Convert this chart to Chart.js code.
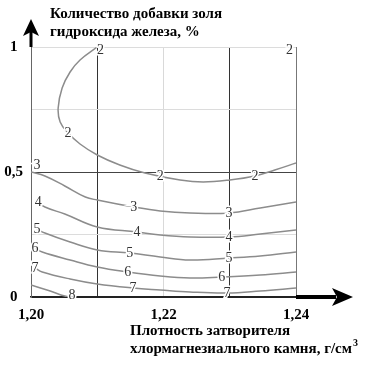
<!DOCTYPE html>
<html>
<head>
<meta charset="utf-8">
<script src="https://cdn.jsdelivr.net/npm/chart.js@4/dist/chart.umd.min.js"></script>
<style>
  html, body { margin: 0; padding: 0; background: #fff; }
  canvas { display: block; }
</style>
</head>
<body>
<canvas id="contours" width="377" height="366"></canvas>
<script>
// axis ticks
const xTickLabels = ['1,20', '', '1,22', '', '1,24'];
const yTickLabels = ['0', '', '0,5', '', '1'];

// iso-lines (x = density, y = additive share)
const iso2X = [1.2100, 1.2074, 1.2059, 1.2047, 1.2041, 1.2044, 1.2056, 1.2074, 1.2100, 1.2134, 1.2172, 1.2225, 1.2260, 1.2300, 1.2338, 1.2368, 1.2400];
const iso2Y = [1.000, 0.948, 0.900, 0.836, 0.756, 0.700, 0.656, 0.612, 0.568, 0.528, 0.496, 0.468, 0.460, 0.468, 0.484, 0.508, 0.536];
const iso3X = [1.2000, 1.2021, 1.2051, 1.2082, 1.2100, 1.2155, 1.2195, 1.2240, 1.2299, 1.2346, 1.2400];
const iso3Y = [0.500, 0.484, 0.444, 0.400, 0.388, 0.360, 0.344, 0.336, 0.336, 0.356, 0.380];
const iso4X = [1.2011, 1.2021, 1.2051, 1.2100, 1.2160, 1.2195, 1.2240, 1.2299, 1.2346, 1.2400];
const iso4Y = [0.380, 0.360, 0.332, 0.280, 0.260, 0.248, 0.240, 0.240, 0.252, 0.268];
const iso5X = [1.2009, 1.2021, 1.2059, 1.2100, 1.2149, 1.2195, 1.2240, 1.2299, 1.2346, 1.2400];
const iso5Y = [0.272, 0.256, 0.220, 0.188, 0.176, 0.160, 0.148, 0.156, 0.164, 0.180];
const iso6X = [1.2006, 1.2017, 1.2059, 1.2100, 1.2146, 1.2195, 1.2240, 1.2288, 1.2346, 1.2400];
const iso6Y = [0.196, 0.180, 0.148, 0.120, 0.100, 0.084, 0.076, 0.080, 0.088, 0.100];
const iso7X = [1.2006, 1.2017, 1.2059, 1.2100, 1.2154, 1.2195, 1.2240, 1.2296, 1.2346, 1.2400];
const iso7Y = [0.116, 0.100, 0.072, 0.052, 0.036, 0.028, 0.020, 0.016, 0.024, 0.036];
const iso8X = [1.2000, 1.2029, 1.2051, 1.2062];
const iso8Y = [0.048, 0.024, 0.004, 0.000];

// inline level labels
const labelText = ['2', '2', '2', '2', '2', '3', '3', '3', '4', '4', '4', '5', '5', '5', '6', '6', '6', '7', '7', '7', '8'];
const labelX = [1.2105, 1.2390, 1.2056, 1.2195, 1.2338, 1.2009, 1.2155, 1.2299, 1.2011, 1.2160, 1.2299, 1.2009, 1.2149, 1.2299, 1.2006, 1.2146, 1.2288, 1.2006, 1.2154, 1.2296, 1.2062];
const labelY = [0.988, 0.988, 0.656, 0.484, 0.484, 0.528, 0.360, 0.336, 0.380, 0.260, 0.240, 0.272, 0.176, 0.156, 0.196, 0.100, 0.080, 0.116, 0.036, 0.016, 0.008];

function toPoints(xs, ys) {
    return xs.map((x, i) => ({ x: x, y: ys[i] }));
}

const isoLines = [
    toPoints(iso2X, iso2Y), toPoints(iso3X, iso3Y), toPoints(iso4X, iso4Y),
    toPoints(iso5X, iso5Y), toPoints(iso6X, iso6Y), toPoints(iso7X, iso7Y),
    toPoints(iso8X, iso8Y)
];

const serif = "'Liberation Serif', 'Times New Roman', serif";

const levelLabels = {
    id: 'levelLabels',
    afterDatasetsDraw(chart) {
        const c = chart.ctx;
        const xs = chart.scales.x, ys = chart.scales.y;
        c.save();
        c.font = '14px ' + serif;
        c.textAlign = 'center';
        c.textBaseline = 'middle';
        labelText.forEach((t, i) => {
            const px = xs.getPixelForValue(labelX[i]);
            const py = ys.getPixelForValue(labelY[i]);
            c.lineWidth = 3;
            c.strokeStyle = '#fff';
            c.strokeText(t, px, py);
            c.fillStyle = '#333';
            c.fillText(t, px, py);
        });
        c.restore();
    }
};

const decorations = {
    id: 'decorations',
    afterDraw(chart) {
        const c = chart.ctx;
        const a = chart.chartArea;
        c.save();
        c.fillStyle = '#000';
        // y arrow
        c.fillRect(a.left - 1.5, a.top - 17, 3, 17);
        c.beginPath();
        c.moveTo(a.left, a.top - 28);
        c.lineTo(a.left + 8, a.top - 11);
        c.lineTo(a.left, a.top - 15);
        c.lineTo(a.left - 8, a.top - 11);
        c.closePath();
        c.fill();
        // x arrow
        c.fillRect(a.right, a.bottom - 2, 40, 4);
        c.beginPath();
        c.moveTo(a.right + 57, a.bottom);
        c.lineTo(a.right + 36, a.bottom - 9);
        c.lineTo(a.right + 41, a.bottom);
        c.lineTo(a.right + 36, a.bottom + 9);
        c.closePath();
        c.fill();

        c.font = 'bold 15px ' + serif;
        c.textAlign = 'left';
        c.textBaseline = 'middle';
        c.fillText('Количество добавки золя', 50, 14);
        c.fillText('гидроксида железа, %', 50, 32);
        c.fillText('Плотность затворителя', 130, 331);
        const line = 'хлормагнезиального камня, г/см';
        c.fillText(line, 130, 349);
        const w = c.measureText(line).width;
        c.font = 'bold 10px ' + serif;
        c.fillText('3', 130 + w + 1, 343);
        c.restore();
    }
};

const xGridColors = ['#666', '#333', '#d9d9d9', '#333', '#777'];
const yGridColors = ['#222', '#dcdcdc', '#444', '#dcdcdc', '#dcdcdc'];

const ctx = document.getElementById('contours').getContext('2d');
new Chart(ctx, {
    type: 'scatter',
    data: {
        datasets: isoLines.map(pts => ({
            data: pts,
            showLine: true,
            borderColor: '#8c8c8c',
            borderWidth: 1.5,
            pointRadius: 0,
            tension: 0.4,
            fill: false
        }))
    },
    options: {
        responsive: false,
        animation: false,
        events: [],
        layout: { padding: { top: 47, right: 81, bottom: 0, left: 0 } },
        plugins: {
            legend: { display: false },
            tooltip: { enabled: false }
        },
        scales: {
            x: {
                type: 'linear',
                min: 1.20,
                max: 1.24,
                afterFit: s => { s.height = 69; },
                afterBuildTicks: s => {
                    s.ticks = xTickLabels.map((_, i) => ({ value: 1.20 + i * 0.01 }));
                },
                ticks: {
                    autoSkip: false,
                    maxRotation: 0,
                    padding: 9,
                    color: '#000',
                    font: { family: serif, size: 15, weight: 'bold' },
                    callback: (v, i) => xTickLabels[i]
                },
                grid: {
                    drawTicks: false,
                    color: c => xGridColors[c.index] || '#ddd'
                },
                border: { color: '#222', width: 1.5 }
            },
            y: {
                type: 'linear',
                min: 0,
                max: 1,
                afterFit: s => { s.width = 31; },
                afterBuildTicks: s => {
                    s.ticks = yTickLabels.map((_, i) => ({ value: i * 0.25 }));
                },
                ticks: {
                    autoSkip: false,
                    padding: 8,
                    crossAlign: 'center',
                    color: '#000',
                    font: { family: serif, size: 15, weight: 'bold' },
                    callback: (v, i) => yTickLabels[i]
                },
                grid: {
                    drawTicks: false,
                    color: c => yGridColors[c.index] || '#ddd'
                },
                border: { color: '#666', width: 1 }
            }
        }
    },
    plugins: [levelLabels, decorations]
});
</script>
</body>
</html>
